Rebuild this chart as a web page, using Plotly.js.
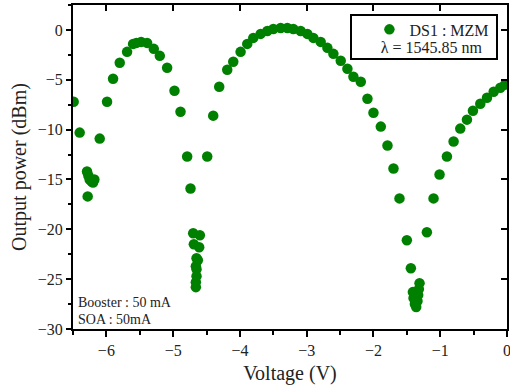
<!DOCTYPE html>
<html><head><meta charset="utf-8">
<script src="https://cdn.plot.ly/plotly-3.0.1.min.js"></script>
<style>html,body{margin:0;padding:0;background:#fff}#plot{width:510px;height:390px}</style>
</head><body><div id="plot"></div>
<script>
const voltage = [-6.49,-6.40,-6.29,-6.27,-6.25,-6.22,-6.20,-6.18,-6.28,-6.10,-5.99,-5.90,-5.80,-5.69,-5.60,-5.55,-5.48,-5.39,-5.29,-5.20,-5.09,-4.98,-4.89,-4.79,-4.74,
 -4.70,-4.60,-4.69,-4.61,-4.65,-4.63,-4.66,-4.65,-4.65,-4.66,-4.66,-4.49,-4.40,-4.31,-4.19,-4.10,-3.99,-3.89,-3.80,-3.69,-3.59,-3.50,-3.39,-3.29,-3.20,-3.09,-2.99,
 -2.90,-2.79,-2.69,-2.60,-2.49,-2.39,-2.30,-2.19,-2.09,-2.00,-1.89,-1.79,-1.70,-1.61,-1.50,-1.44,-1.41,-1.40,-1.38,-1.36,-1.34,-1.33,-1.32,-1.31,-1.20,-1.10,-1.01,
 -0.90,-0.80,-0.70,-0.60,-0.51,-0.40,-0.30,-0.20,-0.10,-0.03];
const power = [-7.2,-10.3,-14.2,-14.6,-15.0,-15.2,-15.3,-15.0,-16.7,-10.9,-7.2,-4.9,-3.3,-2.2,-1.4,-1.3,-1.2,-1.3,-1.9,-2.6,-3.8,-6.1,-8.2,-12.7,-15.9,
 -20.4,-20.6,-21.5,-21.8,-22.9,-23.1,-23.7,-24.0,-24.7,-25.3,-25.8,-12.7,-8.6,-5.7,-4.0,-3.2,-2.2,-1.4,-0.8,-0.4,-0.1,0.1,0.2,0.2,0.1,-0.1,-0.4,
 -0.8,-1.2,-1.8,-2.4,-3.1,-3.9,-4.7,-5.2,-6.9,-8.3,-9.7,-11.6,-13.9,-16.9,-21.1,-23.9,-26.3,-26.9,-27.5,-27.8,-27.2,-26.6,-26.0,-25.4,-20.3,-16.9,-14.5,
 -12.7,-11.2,-9.9,-9.0,-8.1,-7.4,-6.8,-6.2,-5.8,-5.5];
const seriesName = "DS1 : MZM";
const wavelengthLabel = "λ = 1545.85 nm";
const noteLines = ["Booster : 50 mA", "SOA : 50mA"];
const xTitle = "Voltage (V)";
const yTitle = "Output power (dBm)";

const FONT = "Liberation Serif, Times New Roman, serif";
const xr = [-6.5, 0], yr = [-30, 2.5];
const NB = '\u00a0';
const clear = 'rgba(0,0,0,0)';

function ghost(xa, ya) {
  return {x: [voltage[0]], y: [power[0]], xaxis: xa, yaxis: ya, type: 'scatter', mode: 'markers',
          marker: {opacity: 0}, showlegend: false, hoverinfo: 'skip'};
}
const traces = [
  {x: voltage, y: power, type: 'scatter', mode: 'markers', name: seriesName,
   marker: {color: '#008000', size: 10.5}},
  ghost('x2', 'y'), ghost('x', 'y2')
];

const layout = {
  width: 510, height: 390,
  margin: {l: 73, r: 3, t: 5, b: 61},
  paper_bgcolor: '#fff', plot_bgcolor: '#fff',
  font: {family: FONT, color: '#222', size: 16},
  showlegend: true,
  legend: {x: 0.683, y: 0.977, xanchor: 'left', yanchor: 'top', bgcolor: clear,
           font: {family: FONT, size: 16, color: '#222'}, borderwidth: 0},
  xaxis: {range: xr, dtick: 1, tick0: 0, ticks: 'outside', ticklen: 6, tickwidth: 2, tickcolor: '#000',
          showline: true, linewidth: 2, linecolor: '#000', mirror: true, showgrid: false, zeroline: false,
          ticklabeloverflow: 'allow',
          minor: {dtick: 0.5, ticks: 'outside', ticklen: 4, tickwidth: 2, tickcolor: '#000'},
          tickfont: {family: FONT, size: 16, color: '#222'},
          title: {text: xTitle, font: {family: FONT, size: 20, color: '#222'}, standoff: 8}},
  xaxis2: {range: xr, overlaying: 'x', side: 'top', anchor: 'y', dtick: 1, tick0: 0, ticks: 'inside', ticklen: 6, tickwidth: 2,
           tickcolor: '#000', showline: true, linewidth: 2, linecolor: '#000', showgrid: false, zeroline: false,
           showticklabels: true, tickfont: {color: clear, size: 10}},
  yaxis: {range: yr, dtick: 5, tick0: 0, ticks: 'outside', ticklen: 5, tickwidth: 2, tickcolor: '#000',
          showline: true, linewidth: 2, linecolor: '#000', mirror: true, showgrid: false, zeroline: false,
          minor: {dtick: 2.5, ticks: 'outside', ticklen: 3, tickwidth: 2, tickcolor: '#000'},
          tickfont: {family: FONT, size: 16, color: '#222'},
          title: {text: yTitle, font: {family: FONT, size: 20, color: '#222'}, standoff: 6}},
  yaxis2: {range: yr, overlaying: 'y', side: 'right', anchor: 'x', dtick: 5, tick0: 0, ticks: 'inside', ticklen: 6, tickwidth: 2,
           tickcolor: '#000', showline: true, linewidth: 2, linecolor: '#000', showgrid: false, zeroline: false,
           showticklabels: true, tickfont: {color: clear, size: 10}},
  annotations: [
    {xref: 'paper', yref: 'paper', x: 0.979, y: 0.972, xanchor: 'right', yanchor: 'top', showarrow: false,
     align: 'right', bordercolor: '#000', borderwidth: 2, borderpad: 2, bgcolor: clear,
     text: NB.repeat(35) + '<br>' + wavelengthLabel + NB.repeat(3),
     font: {family: FONT, size: 16, color: '#222'}},
    {xref: 'paper', yref: 'paper', x: 0.008, y: 0.083, xanchor: 'left', yanchor: 'middle', showarrow: false,
     text: noteLines[0], font: {family: FONT, size: 14, color: '#222'}},
    {xref: 'paper', yref: 'paper', x: 0.008, y: 0.028, xanchor: 'left', yanchor: 'middle', showarrow: false,
     text: noteLines[1], font: {family: FONT, size: 14, color: '#222'}}
  ]
};
Plotly.newPlot('plot', traces, layout, {displayModeBar: false, staticPlot: true});
</script></body></html>
